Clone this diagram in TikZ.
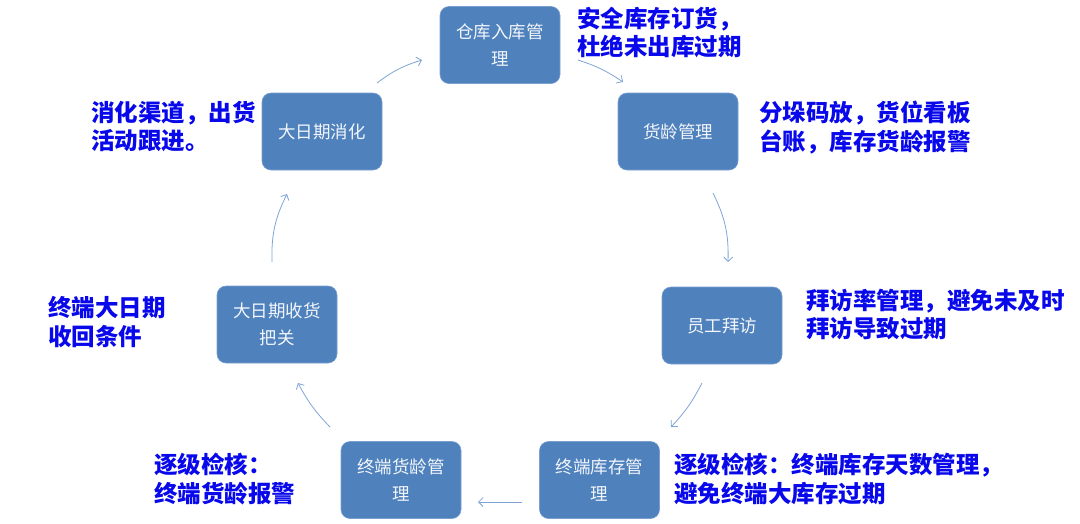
\documentclass[tikz,border=0pt]{standalone}
\usepackage{fontspec}
\setmainfont{Noto Sans CJK SC}
\usetikzlibrary{arrows.meta}
\definecolor{boxfill}{HTML}{4F81BD}
\definecolor{boxline}{HTML}{7A9FD0}
\definecolor{boxtext}{HTML}{F2F6FB}
\definecolor{annblue}{RGB}{8,8,235}
\definecolor{arrcol}{HTML}{7FA4D6}
\tikzset{
  stepbox/.style={draw=boxline, line width=0.6pt, fill=boxfill, rounded corners=9pt,
    minimum width=120pt, minimum height=77pt, inner sep=0pt, align=center,
    text=boxtext, font=\fontsize{17.5}{27}\selectfont},
  ann/.style={anchor=west, align=left, text=annblue, inner sep=0pt,
    font=\bfseries\fontsize{23.5}{28.5}\selectfont},
  arr/.style={draw=arrcol, line width=0.8pt, -{Straight Barb[length=4.5pt,width=9pt]}}
}
\begin{document}
\begin{tikzpicture}[x=1pt,y=-1pt]
\useasboundingbox (0,0) rectangle (1080,523);
% boxes
\node[stepbox] (A) at (500,45) {仓库入库管\\理};
\node[stepbox] (B) at (678,131.5) {货龄管理};
\node[stepbox] (C) at (722,325.5) {员工拜访};
\node[stepbox] (D) at (599.5,480) {终端库存管\\理};
\node[stepbox] (E) at (401,480) {终端货龄管\\理};
\node[stepbox] (F) at (277,324.5) {大日期收货\\把关};
\node[stepbox] (G) at (322,131.5) {大日期消化};
% annotations
\node[ann] (tA) at (577,32.5) {安全库存订货，\\杜绝未出库过期};
\node[ann] (tB) at (759,127.5) {分垛码放，货位看板\\台账，库存货龄报警};
\node[ann] (tC) at (806,314.5) {拜访率管理，避免未及时\\拜访导致过期};
\node[ann] (tD) at (674,479) {逐级检核：终端库存天数管理，\\避免终端大库存过期};
\node[ann] (tE) at (154,479) {逐级检核：\\终端货龄报警};
\node[ann] (tF) at (48,322) {终端大日期\\收回条件};
\node[ann] (tG) at (91,126.5) {消化渠道，出货\\活动跟进。};
% arrow end points
\coordinate (g1) at (377,83);  \coordinate (a1) at (422,60);
\coordinate (a2) at (578,60);  \coordinate (b2) at (623,82);
\coordinate (b3) at (713,193); \coordinate (c3) at (728,262);
\coordinate (c4) at (702,383); \coordinate (d4) at (671,427);
\coordinate (d5) at (522,502); \coordinate (e5) at (478,502);
\coordinate (e6) at (330,427); \coordinate (f6) at (298,383);
\coordinate (f7) at (272,262); \coordinate (g7) at (287,194);
% arrows
\draw[arr] (g1) to[bend left=10] (a1);
\draw[arr] (a2) to[bend left=8] (b2);
\draw[arr] (b3) to[bend left=14] (c3);
\draw[arr] (c4) to[bend left=8] (d4);
\draw[arr] (d5) -- (e5);
\draw[arr] (e6) to[bend left=8] (f6);
\draw[arr] (f7) to[bend left=14] (g7);
\end{tikzpicture}
\end{document}
